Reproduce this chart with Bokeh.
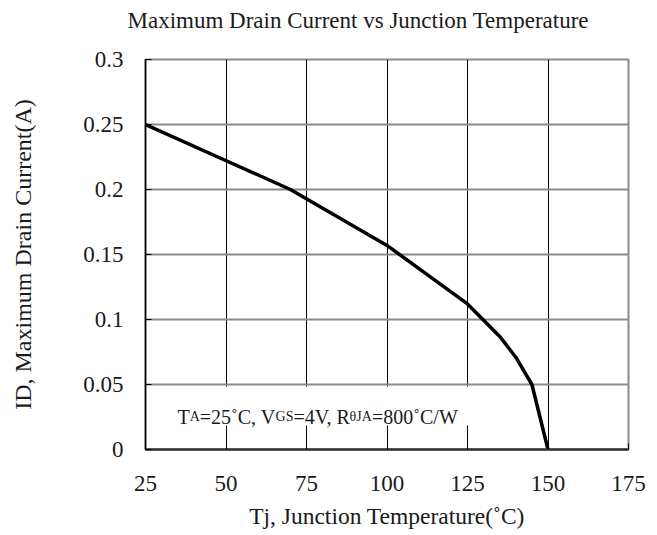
import math
from bokeh.plotting import figure
from bokeh.models import FixedTicker, Range1d, Label, BoxAnnotation, LinearAxis
from bokeh.embed import file_html
from bokeh.resources import INLINE

# ---- data ----
temps = [25, 70, 100, 125, 135, 140, 145, 150]
currents = [0.25, 0.2, 0.157, 0.112, 0.087, 0.071, 0.05, 0.0]
x_ticks = [25, 50, 75, 100, 125, 150, 175]
y_ticks = [0, 0.05, 0.1, 0.15, 0.2, 0.25, 0.3]
y_tick_labels = ["0", "0.05", "0.1", "0.15", "0.2", "0.25", "0.3"]
title_text = "Maximum Drain Current vs Junction Temperature"
x_label_text = "Tj, Junction Temperature(˚C)"
y_label_text = "ID, Maximum Drain Current(A)"
note_parts = [("T", "big"), ("A", "small"), ("=25˚C, V", "big"), ("GS", "small"),
              ("=4V, R", "big"), ("θJA", "small"), ("=800˚C/W", "big")]

FONT = "Liberation Serif"
W, H = 657, 535
FL, FR, FT, FB = 145, 628, 59, 449
X0, X1, Y0, Y1 = 25, 175, 0.0, 0.3
pxx = (FR - FL) / (X1 - X0)
pxy = (FB - FT) / (Y1 - Y0)

def dx(sx):
    return X0 + (sx - FL) / pxx

def dy(sy):
    return Y0 + (FB - sy) / pxy

# Times metrics (em fractions)
CW = {" ": .25, ",": .25, "=": .564, "/": .278, "(": .333, ")": .333, "˚": .333,
      "0": .5, "1": .5, "2": .5, "4": .5, "5": .5, "8": .5,
      "A": .722, "C": .667, "D": .722, "G": .722, "I": .333, "J": .389, "M": .889,
      "R": .667, "S": .556, "T": .611, "V": .722, "W": .944, "θ": .5,
      "a": .444, "c": .444, "e": .444, "i": .278, "m": .778, "n": .5, "o": .5,
      "p": .5, "r": .333, "s": .389, "t": .278, "u": .5, "v": .5, "x": .5}

def tw(s, size):
    return sum(CW.get(c, .5) for c in s) * size

p = figure(width=W, height=H, output_backend="svg", toolbar_location=None,
           x_range=Range1d(X0, X1), y_range=Range1d(Y0, Y1),
           min_border_left=FL, min_border_right=W - FR,
           min_border_top=FT, min_border_bottom=H - FB)
p.background_fill_color = "white"
p.border_fill_color = "white"
p.outline_line_color = "#8a8a8a"
p.outline_line_width = 2

xax = p.below[0]
yax = p.left[0]

# title drawn as the label of a bare axis above the frame; trailing no-break
# spaces move its centre from the frame centre (386.5px) to ~359px
TS = 23
shift = 2 * ((FL + FR) / 2 - 359)
pad = "\u00a0" * int(round(shift / (0.25 * TS)))
tax = LinearAxis(axis_label=title_text + pad, ticker=FixedTicker(ticks=[]))
tax.axis_line_color = None
tax.major_tick_line_color = None
tax.minor_tick_line_color = None
tax.major_tick_in = 0
tax.major_tick_out = 0
tax.minor_tick_in = 0
tax.minor_tick_out = 0
tax.major_label_standoff = 0
tax.axis_label_text_font = FONT
tax.axis_label_text_font_size = f"{TS}px"
tax.axis_label_text_font_style = "normal"
tax.axis_label_text_color = "#1a1a1a"
tax.axis_label_standoff = 27
p.add_layout(tax, "above")

p.xgrid.ticker = FixedTicker(ticks=x_ticks)
p.ygrid.ticker = FixedTicker(ticks=y_ticks)
p.xgrid.grid_line_color = "black"
p.xgrid.grid_line_width = 1
p.ygrid.grid_line_color = "#8a8a8a"
p.ygrid.grid_line_width = 2

xax.ticker = FixedTicker(ticks=x_ticks)
yax.ticker = FixedTicker(ticks=y_ticks)
yax.major_label_overrides = {t: l for t, l in zip(y_ticks, y_tick_labels)}
for ax in (xax, yax):
    ax.major_tick_in = 6
    ax.major_tick_out = 0
    ax.minor_tick_in = 0
    ax.minor_tick_out = 0
    ax.major_tick_line_color = "black"
    ax.major_label_text_font = FONT
    ax.major_label_text_font_size = "23px"
    ax.major_label_text_color = "#1a1a1a"
    ax.axis_label_text_font = FONT
    ax.axis_label_text_font_style = "normal"
    ax.axis_label_text_color = "#1a1a1a"
xax.axis_line_color = "#333333"
xax.axis_line_width = 2.5
yax.axis_line_color = "black"
yax.axis_line_width = 1.5
xax.major_label_standoff = 26
yax.major_label_standoff = 22

xax.axis_label = x_label_text
xax.axis_label_text_font_size = "23.5px"
xax.axis_label_standoff = 9

yax.axis_label = y_label_text
yax.axis_label_text_font_size = "24px"
yax.axis_label_standoff = 44

p.line(temps, currents, line_width=3.5, line_color="black")

# white box behind the note
p.add_layout(BoxAnnotation(left=dx(147), right=dx(476), top=dy(386), bottom=dy(425),
                           fill_color="white", fill_alpha=1.0, line_color=None,
                           level="annotation"))

BIG, SMALL = 20, 14
KERN = {"θJA": -3}
off = 0.0
for txt, kind in note_parts:
    size = BIG if kind == "big" else SMALL
    off += KERN.get(txt, 0)
    p.add_layout(Label(x=dx(177), y=dy(416), x_offset=off, text=txt,
                       text_font=FONT, text_font_size=f"{size}px",
                       text_color="#1a1a1a", text_baseline="alphabetic",
                       text_align="left"))
    off += tw(txt, size)

open("out.html", "w").write(file_html(p, INLINE))
